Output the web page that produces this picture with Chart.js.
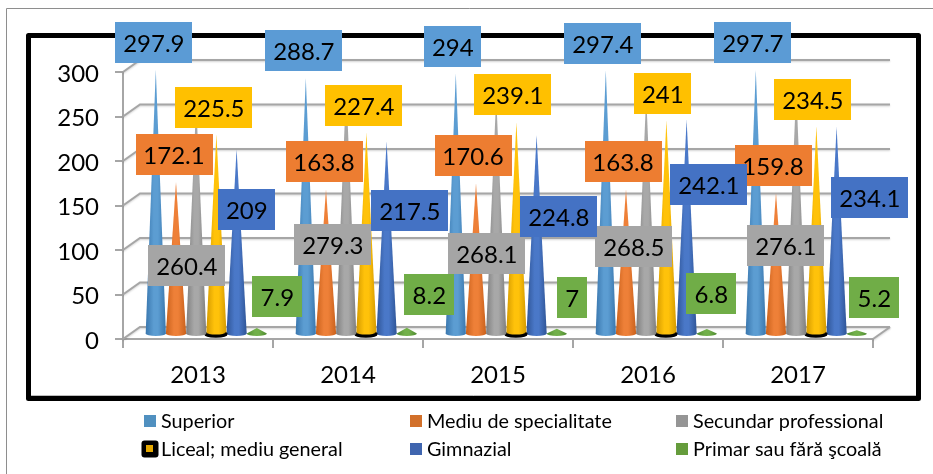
<!DOCTYPE html>
<html><head><meta charset="utf-8">
<script src="https://cdn.jsdelivr.net/npm/chart.js@4"></script>
<style>html,body{margin:0;padding:0;background:#fff}canvas{display:block}</style>
</head><body><canvas id="c" width="933" height="474"></canvas>
<script>
const categories = ['2013','2014','2015','2016','2017'];
const seriesNames = ['Superior','Mediu de specialitate','Secundar professional','Liceal; mediu general','Gimnazial','Primar sau fără şcoală'];
const superior = [297.9,288.7,294,297.4,297.7];
const mediu = [172.1,163.8,170.6,163.8,159.8];
const secundar = [260.4,279.3,268.1,268.5,276.1];
const liceal = [225.5,227.4,239.1,241,234.5];
const gimnazial = [209,217.5,224.8,242.1,234.1];
const primar = [7.9,8.2,7,6.8,5.2];
const yTicks = [0,50,100,150,200,250,300];

const FONT = 'Lato, Carlito, sans-serif';
const boxColors = ['#5B9BD5','#ED7D31','#A5A5A5','#FFC000','#4472C4','#70AD47'];
const edgeColors = ['#3A77AE','#C9611C','#7F7F7F','#D49A00','#2F5597','#4E8A30'];
const midColors = ['#5C9DD2','#EE8038','#A8A8A8','#FFC20A','#4A78C8','#72B04A'];
const swatchColors = ['#5090C0','#D2702A','#959595','#E5A800','#3F65AF','#659C3C'];
// data-label offsets from each cone's tip (manual placement in the source chart)
const labelDx = [[-2,-2,-3,-3,-3],[-2,-2,-3,-3,-3],[-9.4,-13.4,-9.4,-12.4,-10.4],[-2.6,-2.6,-3.6,-3.6,-3.6],[10.2,23.2,22.2,22.2,33.2],[20.5,22.5,15.5,4.5,17.5]];
const labelDy = [[-27.4,-27.6,-26.8,-26.8,-27.5],[-27.3,-27.7,-27.7,-27.7,-27.3],[162.3,158.1,157.1,150.5,156.2],[-26.8,-27.1,-27.7,-27,-26.8],[60.5,69,81.6,65,70.9],[-31.5,-33.2,-31.3,-35.4,-32.9]];

const GRID = '#A6A6A6';
const depth = {wallX:17, wallY:-12, coneX:8.3, coneY:-4};

function rrect(ctx,x,y,w,h,r){ctx.beginPath();ctx.roundRect(x,y,w,h,r);}

const chrome = {
  id:'chrome',
  beforeDraw(chart){
    const ctx = chart.ctx; ctx.save();
    ctx.fillStyle='#fff'; ctx.fillRect(0,0,933,474);
    ctx.strokeStyle='#8E8E8E'; ctx.lineWidth=1;
    ctx.beginPath(); ctx.moveTo(6.5,474); ctx.lineTo(6.5,8.5); ctx.lineTo(933,8.5); ctx.stroke();
    ctx.strokeStyle='#000'; ctx.lineWidth=5; ctx.lineJoin='round';
    ctx.strokeRect(28.5,35.5,890,363);
    ctx.strokeStyle='#BDBDBD'; ctx.lineWidth=1;
    ctx.beginPath(); ctx.moveTo(31,395.5); ctx.lineTo(916,395.5); ctx.stroke();
    ctx.restore();
  },
  beforeDatasetsDraw(chart){
    const ctx=chart.ctx, y=chart.scales.y, a=chart.chartArea;
    ctx.save();
    ctx.strokeStyle=GRID; ctx.lineWidth=2;
    ctx.shadowColor='rgba(0,0,0,.18)'; ctx.shadowBlur=2; ctx.shadowOffsetY=1;
    yTicks.forEach(v=>{
      const p=y.getPixelForValue(v);
      ctx.beginPath(); ctx.moveTo(a.left,p); ctx.lineTo(a.left+depth.wallX,p+depth.wallY);
      ctx.lineTo(a.right+depth.wallX,p+depth.wallY); ctx.stroke();
    });
    const p0=y.getPixelForValue(0);
    ctx.beginPath(); ctx.moveTo(a.right+depth.wallX,p0+depth.wallY); ctx.lineTo(a.right,p0); ctx.stroke();
    ctx.restore();
  },
  beforeDatasetDraw(chart,args){
    const ctx=chart.ctx, i=args.index, meta=args.meta;
    meta.data.forEach(el=>{
      const p=el.getProps(['x','y','base','width'],true);
      const cx=p.x+depth.coneX, top=p.y+depth.coneY, base=p.base+depth.coneY-0.5, hw=p.width/2;
      const g=ctx.createLinearGradient(cx-hw,0,cx+hw,0);
      g.addColorStop(0,edgeColors[i]); g.addColorStop(.4,midColors[i]); g.addColorStop(.6,midColors[i]); g.addColorStop(1,edgeColors[i]);
      ctx.save();
      ctx.fillStyle=g;
      ctx.beginPath(); ctx.moveTo(cx,top); ctx.lineTo(cx+hw,base);
      ctx.ellipse(cx,base,hw,2.5,0,0,Math.PI); ctx.closePath(); ctx.fill();
      if(i===3){
        ctx.strokeStyle='#000'; ctx.lineWidth=3.2; ctx.lineCap='round';
        ctx.beginPath(); ctx.ellipse(cx-0.5,base+0.4,hw,2.2,0,0,Math.PI); ctx.stroke();
      }
      ctx.restore();
    });
    return false;
  },
  afterDatasetsDraw(chart){
    const ctx=chart.ctx;
    ctx.save();
    ctx.font='24px '+FONT; ctx.textAlign='center'; ctx.textBaseline='middle';
    chart.data.datasets.forEach((ds,i)=>{
      chart.getDatasetMeta(i).data.forEach((el,j)=>{
        const cx=el.x+depth.coneX+labelDx[i][j], cy=el.y+depth.coneY+labelDy[i][j];
        const txt=String(ds.data[j]);
        const w=txt.length===1?30:txt.length===3&&txt.indexOf('.')>=0?50:txt.length===3?57:77, h=41;
        ctx.fillStyle=boxColors[i];
        ctx.fillRect(Math.round(cx-w/2),Math.round(cy-h/2),w,h);
        ctx.fillStyle='#000';
        ctx.fillText(txt,cx,cy+1.5);
      });
    });
    // legend
    const colX=[144,410,676], rowY=[421,449];
    ctx.font='19.8px '+FONT; ctx.textAlign='left'; ctx.textBaseline='middle';
    seriesNames.forEach((n,i)=>{
      const x=colX[i%3], y=rowY[Math.floor(i/3)];
      if(i===3){ctx.fillStyle='#000'; rrect(ctx,x-2.5,y-8.5,17,17,3); ctx.fill();
        ctx.fillStyle=swatchColors[i]; ctx.fillRect(x+2,y-4,7,7);}
      else {ctx.fillStyle=swatchColors[i]; ctx.fillRect(x,y-6,12,12);}
      ctx.fillStyle='#000'; ctx.fillText(n,x+17,y+0.5);
    });
    ctx.restore();
  }
};

const values=[superior,mediu,secundar,liceal,gimnazial,primar];
new Chart(document.getElementById('c'),{
  type:'bar',
  data:{labels:categories,datasets:seriesNames.map((n,i)=>({label:n,data:values[i],backgroundColor:boxColors[i],categoryPercentage:.808,barPercentage:1}))},
  plugins:[chrome],
  options:{
    responsive:false,animation:false,
    layout:{padding:{top:72,right:60,bottom:0,left:0}},
    plugins:{legend:{display:false},tooltip:{enabled:false}},
    scales:{
      x:{afterFit(s){s.height=135;},
        grid:{offset:true,drawOnChartArea:false,color:GRID,lineWidth:2,tickLength:9},
        border:{color:GRID,width:2},
        ticks:{color:'#000',font:{family:FONT,size:24},padding:13,maxRotation:0}},
      y:{min:0,max:300,afterFit(s){s.width=123;},
        grid:{drawOnChartArea:false,color:GRID,lineWidth:2,tickLength:8},
        border:{color:GRID,width:2},
        ticks:{color:'#000',stepSize:50,font:{family:FONT,size:24},padding:16,labelOffset:2}}
    }
  }
});
</script></body></html>
